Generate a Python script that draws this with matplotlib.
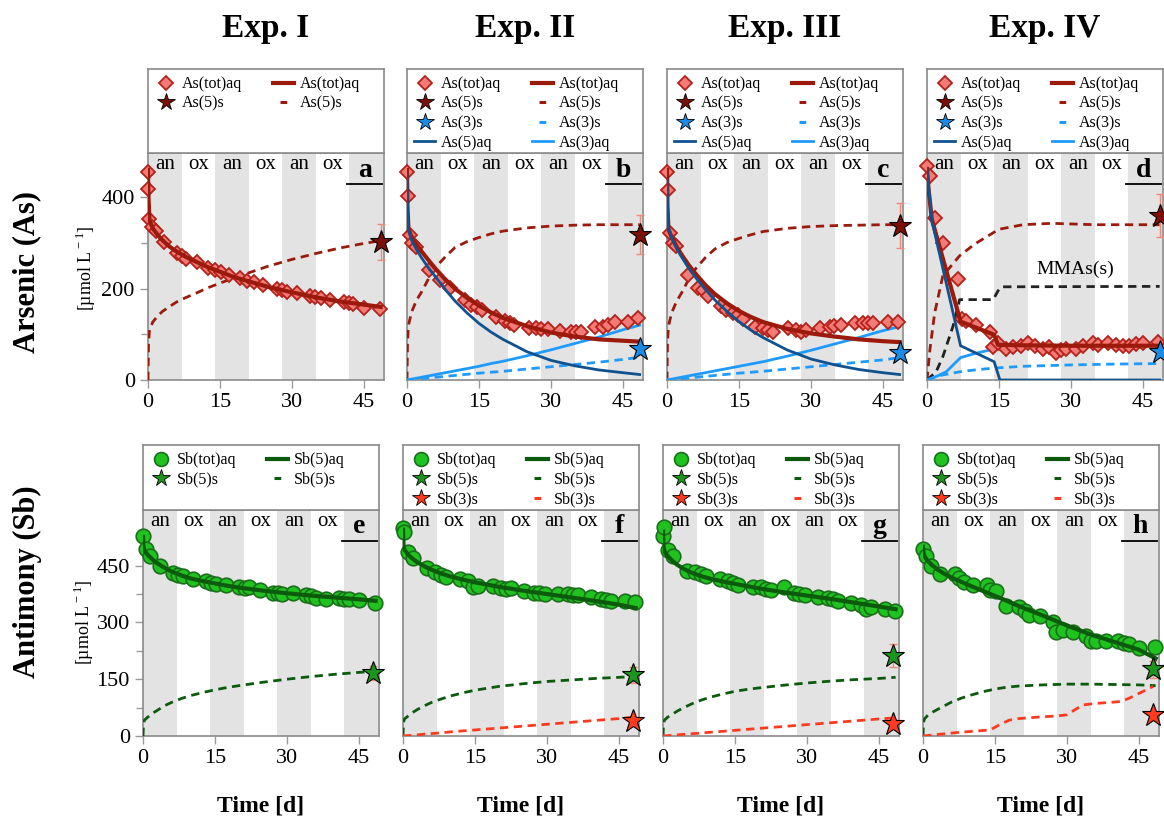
import numpy as np
import matplotlib.pyplot as plt
from matplotlib.lines import Line2D
from matplotlib.ticker import MultipleLocator, FixedLocator

plt.rcParams['font.family'] = ['Liberation Serif', 'DejaVu Serif']
plt.rcParams['mathtext.fontset'] = 'custom'
plt.rcParams['mathtext.rm'] = 'Liberation Serif'

# ---------------- colours ----------------
C_DIA = '#f47a76'
C_DIA_E = '#b3221a'
C_RED = '#9b1a0c'
C_STAR_RED = '#7c0f08'
C_DBLUE = '#0f528f'
C_LBLUE = '#1f9bff'
C_STAR_BLUE = '#1a8ce6'
C_CIRC = '#1fc21f'
C_CIRC_E = '#1b6e1b'
C_GREEN = '#0c5a0c'
C_STAR_GREEN = '#1c951c'
C_ORANGE = '#ff3a1e'
C_ERR = '#f08a78'
C_SHADE = '#e3e3e3'
C_SPINE = '#8a8a8a'

# ---------------- shared model time grid ----------------
t_mod = [0, 0.1, 0.3, 1, 2, 3, 4.5, 6, 8, 10, 12.5, 15, 17.5, 20, 25, 30, 35, 40, 45, 48.5]

# ---------------- Exp. I, arsenic (a) ----------------
a_obs_t = [0, 0, 0.3, 0.8, 1.7, 3.3, 6, 7, 8, 10.2, 12.6, 14, 15.2, 16.8, 19.2, 20.6, 22, 24,
           26.9, 27.9, 29, 31, 33.8, 34.9, 36, 38, 40.8, 41.8, 42.8, 45, 48.3]
a_obs_as = [456, 418, 352, 334, 327, 302, 277, 272, 266, 258, 246, 241, 236, 230, 224, 216, 214, 208,
            200, 196, 193, 191, 185, 182, 180, 176, 171, 169, 167, 158, 156]
a_mod_tot = [460, 400, 350, 332, 318, 306, 292, 281, 269, 259, 247, 237, 227, 219, 204, 192, 181, 172, 165, 160]
a_mod_as5s = [0, 75, 110, 127, 140, 150, 161, 171, 181, 190, 202, 212, 222, 231, 249, 264, 277, 289, 299, 305]
a_star_as5 = (48.5, 302, 40)

# ---------------- Exp. II, arsenic (b) ----------------
b_obs_t = [0, 0.2, 0.6, 1.1, 1.9, 4.6, 6.8, 8.9, 12, 13.4, 14.6, 15.7, 18.6, 20.4, 21.4, 22.4, 25.4,
           26.9, 28, 29.4, 31.8, 34.2, 35.3, 36.3, 39.1, 40.8, 41.9, 43.3, 46, 48.1]
b_obs_as = [456, 402, 317, 301, 292, 241, 220, 202, 176, 165, 160, 154, 137, 130, 125, 121, 114,
            114, 112, 112, 108, 104, 106, 106, 117, 117, 121, 126, 128, 136]
b_mod_tot = [460, 380, 330, 312, 296, 282, 262, 243, 220, 200, 180, 163, 148, 136, 118, 104, 95, 89, 86, 84]
b_mod_as5aq = [450, 380, 330, 305, 285, 268, 245, 225, 198, 173, 147, 124, 105, 89, 62, 43, 31, 22, 16, 12]
b_mod_as3aq = [0, 0.2, 0.6, 2, 4, 6, 9, 12, 16, 20, 25, 30, 36, 41, 53, 66, 80, 94, 110, 120]
b_mod_as3s = [0, 0.1, 0.3, 1, 2, 3, 4.5, 6, 8, 10, 12.5, 15, 17, 19, 24, 29, 34, 39, 45, 50]
b_mod_as5s = [0, 80, 120, 150, 175, 192, 222, 247, 270, 290, 303, 312, 320, 326, 333, 337, 339, 340, 340, 340]
b_star_as5 = (48.5, 318, 43)
b_star_as3 = (48.5, 67)

# ---------------- Exp. III, arsenic (c) ----------------
c_obs_t = [0, 0.2, 0.7, 1.3, 1.9, 4.4, 6.5, 7.5, 8.5, 11.3, 12.4, 13.8, 14.8, 15.8, 18.3, 20, 21,
           22.1, 25.2, 26.9, 28, 29, 31.8, 33.9, 34.9, 36.3, 39.1, 40.8, 41.9, 42.9, 46, 48.1]
c_obs_as = [456, 415, 321, 299, 294, 229, 202, 198, 183, 161, 154, 147, 143, 134, 117, 114, 110,
            106, 114, 110, 106, 109, 114, 117, 119, 121, 125, 125, 125, 125, 126, 128]
c_mod_tot = [460, 380, 330, 312, 292, 275, 252, 232, 208, 188, 168, 151, 138, 127, 112, 102, 95, 89, 85, 83]
c_mod_as5aq = [440, 390, 335, 310, 288, 270, 245, 224, 198, 175, 150, 128, 109, 93, 66, 46, 33, 23, 16, 12]
c_mod_as3aq = [0, 0.2, 0.6, 2, 4, 6, 9, 12, 16, 20, 25, 30, 35, 40, 52, 65, 79, 93, 108, 117]
c_mod_as3s = [0, 0.1, 0.3, 1, 2, 3, 4.5, 6, 8, 10, 12.5, 15, 17, 19, 24, 29, 34, 39, 44, 49]
c_mod_as5s = [0, 80, 118, 148, 172, 190, 220, 244, 268, 287, 301, 310, 318, 325, 332, 336, 338, 339, 340, 340]
c_star_as5 = (48.5, 338, 49)
c_star_as3 = (48.5, 59)

# ---------------- Exp. IV, arsenic (d) ----------------
d_obs_t = [0, 0.6, 1.6, 3.3, 6.5, 7.2, 8.2, 10.3, 13.1, 13.8, 14.8, 16.5, 17.9, 19.5, 21, 22.5, 24.2,
           25.5, 26.9, 28, 29, 31.1, 32.5, 34.6, 35.6, 37.7, 39.5, 40.8, 42.2, 43.5, 45, 48.1]
d_obs_as = [468, 446, 354, 299, 222, 134, 130, 121, 106, 73, 81, 68, 73, 75, 81, 75, 68,
            72, 59, 66, 68, 68, 75, 82, 77, 81, 76, 75, 75, 78, 81, 84]
d_tot_t = [0, 0.3, 1, 7, 14, 14.8, 20, 30, 40, 48.5]
d_mod_tot = [462, 420, 352, 128, 99, 77, 76, 75, 75, 75]
d_as5aq_t = [0, 1, 7, 14, 15.2, 48.5]
d_mod_as5aq = [462, 350, 75, 40, 0, 0]
d_as3aq_t = [0, 2, 4, 7, 10, 14.8]
d_mod_as3aq = [0, 8, 18, 49, 58, 70]
d_as3s_t = [0, 2, 3.3, 6.8, 10, 13.8, 20, 30, 40, 48.5]
d_mod_as3s = [0, 8, 11, 18, 22, 26, 30, 33, 35, 36]
d_as5s_t = [0, 0.6, 1.6, 3.3, 6.8, 10, 15, 20, 26, 35, 48.5]
d_mod_as5s = [0, 66, 147, 228, 272, 298, 330, 340, 343, 340, 340]
d_mmas_t = [0, 1.9, 3.3, 5.4, 6.8, 13.8, 14.8, 15.5, 48.5]
d_mod_mmas = [0, 18, 51, 117, 176, 176, 195, 204, 205]
d_star_as5 = (48.5, 360, 48)
d_star_as3 = (48.5, 62)

# ---------------- Exp. I, antimony (e) ----------------
e_obs_t = [0, 0.7, 1.4, 3.5, 6.2, 7.3, 8.3, 10.4, 13.2, 14.2, 15.3, 17.2, 20.1, 21.2, 22.2, 24.3,
           27.1, 28.1, 29, 31.3, 34, 35, 36, 38.2, 40.8, 42, 43, 45, 48.3]
e_obs_sb = [528, 494, 475, 450, 431, 426, 422, 415, 409, 404, 402, 400, 393, 391, 394, 385,
            379, 378, 375, 378, 373, 369, 364, 362, 364, 362, 362, 358, 351]
e_mod_sb5aq = [525, 500, 490, 478, 466, 456, 444, 434, 424, 416, 409, 403, 397, 392, 384, 377, 371, 366, 361, 357]
e_mod_sb5s = [0, 30, 42, 50, 60, 68, 80, 89, 99, 107, 115, 122, 128, 133, 142, 150, 157, 163, 168, 171]
e_star_sb5 = (48, 167, 18)

# ---------------- Exp. II, antimony (f) ----------------
f_obs_t = [0, 0.3, 1, 2.1, 4.9, 6.6, 8, 9, 11.8, 13.5, 14.6, 15.6, 18.8, 20.5, 21.5, 22.6, 25.3,
           27.4, 28.3, 29.5, 32.3, 34.4, 35.4, 36.5, 39.2, 41.3, 42.4, 43.4, 46.2, 48.3]
f_obs_sb = [550, 538, 485, 470, 444, 432, 426, 420, 415, 409, 394, 395, 395, 391, 389, 391, 382,
            379, 379, 376, 376, 376, 373, 373, 367, 362, 358, 356, 356, 353]
f_mod_sb5aq = [545, 505, 492, 480, 468, 459, 448, 439, 429, 421, 413, 406, 400, 394, 384, 375, 366, 357, 347, 338]
f_mod_sb5s = [0, 35, 45, 52, 62, 70, 80, 89, 98, 106, 114, 121, 126, 131, 138, 144, 148, 152, 155, 157]
f_mod_sb3s = [0, 0.1, 0.3, 1, 2, 3, 5, 6.5, 8.5, 11, 13.5, 16, 18.5, 21, 26, 31, 36, 41, 46, 50]
f_star_sb5 = (48, 161, 21)
f_star_sb3 = (48, 40)

# ---------------- Exp. III, antimony (g) ----------------
g_obs_t = [0, 0.3, 1, 2.1, 4.9, 6.6, 8, 9, 11.8, 13.5, 14.6, 15.6, 18.8, 20.5, 21.5, 22.6, 25.3,
           27.4, 28.3, 29.5, 32.3, 34.4, 35.4, 36.5, 39.2, 41.3, 42.4, 43.4, 46.2, 48.3]
g_obs_sb = [528, 552, 492, 475, 437, 432, 429, 422, 415, 409, 404, 400, 394, 393, 388, 386, 393,
            378, 376, 373, 367, 364, 362, 357, 351, 345, 336, 341, 335, 329]
g_mod_sb5aq = [540, 500, 488, 475, 462, 452, 440, 431, 422, 415, 408, 402, 396, 390, 380, 371, 362, 352, 342, 335]
g_mod_sb5s = [0, 30, 42, 50, 58, 66, 76, 85, 95, 103, 111, 118, 123, 127, 134, 140, 145, 149, 152, 155]
g_mod_sb3s = [0, 0.1, 0.3, 1, 2, 3, 4.5, 6, 8, 10, 12.5, 15, 17.5, 20, 25, 30, 35, 40, 45, 48]
g_star_sb5 = (48, 212, 30)
g_star_sb3 = (48, 32)

# ---------------- Exp. IV, antimony (h) ----------------
h_obs_t = [0, 0.6, 1.7, 3.5, 6.6, 7.5, 8.5, 10.4, 13.3, 13.9, 15.3, 17.2, 20.1, 21.2, 22.2, 24.3,
           27.1, 27.8, 29.2, 31.3, 34, 35.1, 36.1, 38.2, 40.6, 42, 43, 45, 48.3]
h_obs_sb = [494, 475, 450, 428, 428, 417, 406, 400, 400, 386, 382, 344, 340, 329, 320, 316,
            300, 276, 279, 274, 265, 250, 250, 250, 250, 245, 244, 232, 235]
h_mod_sb5aq = [500, 485, 475, 462, 450, 440, 428, 418, 407, 396, 383, 370, 357, 343, 318, 292, 268, 248, 228, 205]
h_mod_sb5s = [0, 35, 45, 55, 63, 70, 80, 90, 100, 108, 117, 124, 129, 132, 135, 137, 137, 136, 135, 133]
h_sb3s_t = [0, 7, 14, 16, 18, 20, 24, 28, 30, 31.5, 33.3, 36, 41.3, 43, 45.1, 48]
h_mod_sb3s = [0, 9, 16, 30, 42, 46, 50, 53, 56, 68, 82, 86, 91, 100, 113, 131]
h_star_sb5 = (48, 176, 22)
h_star_sb3 = (48, 56)

exp_titles = ['Exp. I', 'Exp. II', 'Exp. III', 'Exp. IV']
phase_labels = ['an', 'ox', 'an', 'ox', 'an', 'ox']
XMAX = 49.2
DASH = (3, 2)
LEG_DASH = (19.9, (2.2, 20))

W, H = 1164, 821
fig = plt.figure(figsize=(W / 100, H / 100), dpi=100)


def style_box(ax):
    for s in ax.spines.values():
        s.set_color(C_SPINE)
        s.set_linewidth(1.2)


def make_panel(x0, top, bottom, leg_top, letter, ymax, major, minor, first):
    ax = fig.add_axes([x0 / W, 1 - bottom / H, 236 / W, (bottom - top) / H])
    axl = fig.add_axes([x0 / W, 1 - top / H, 236 / W, (top - leg_top) / H])
    axl.set_xticks([])
    axl.set_yticks([])
    style_box(axl)
    style_box(ax)
    ax.set_xlim(0, XMAX)
    ax.set_ylim(0, ymax)
    for k in range(4):
        ax.axvspan(14 * k, min(14 * k + 7, XMAX), color=C_SHADE, lw=0, zorder=0)
    for k, lab in enumerate(phase_labels):
        ax.text(7 * k + 3.5, ymax * 0.95, lab, ha='center', va='center', fontsize=15)
    ax.text(0.918, 0.925, letter, transform=ax.transAxes, ha='center', va='center',
            fontsize=20, fontweight='bold')
    ax.plot([0.845, 0.99], [0.865] * 2, transform=ax.transAxes, color='black', lw=1.3)
    ax.set_xticks([0, 15, 30, 45])
    ax.yaxis.set_major_locator(MultipleLocator(major))
    ax.yaxis.set_minor_locator(FixedLocator(minor))
    ax.tick_params(which='both', direction='out', color='#999999', width=1, labelsize=16)
    ax.tick_params(which='major', length=6)
    ax.tick_params(which='minor', length=5)
    if not first:
        ax.tick_params(axis='y', which='both', left=False, labelleft=False)
    return ax, axl


def star(ax, pt, face, err=None):
    if err is not None:
        ax.errorbar(pt[0], pt[1], yerr=err, color=C_ERR, lw=1, capsize=3, zorder=4, clip_on=False)
    ax.plot(pt[0], pt[1], marker='*', ms=17, mfc=face, mec='black', mew=0.8, zorder=6, clip_on=False)


def add_legend(axl, h, lab):
    axl.legend(h, lab, ncol=2, loc='upper left', frameon=False, fontsize=11.5,
               handlelength=1.3, handletextpad=0.4, columnspacing=1.9, labelspacing=0.22,
               borderaxespad=0.15, borderpad=0.3)


def as_legend(axl, full):
    dia = Line2D([], [], ls='none', marker='D', ms=7, mfc=C_DIA, mec=C_DIA_E, mew=1.3)
    st5 = Line2D([], [], ls='none', marker='*', ms=13, mfc=C_STAR_RED, mec='black', mew=0.6)
    st3 = Line2D([], [], ls='none', marker='*', ms=13, mfc=C_STAR_BLUE, mec='black', mew=0.6)
    l_tot = Line2D([], [], color=C_RED, lw=3)
    l_5s = Line2D([], [], color=C_RED, lw=2.2, ls=LEG_DASH)
    l_3s = Line2D([], [], color=C_LBLUE, lw=2.2, ls=LEG_DASH)
    l_5aq = Line2D([], [], color=C_DBLUE, lw=2)
    l_3aq = Line2D([], [], color=C_LBLUE, lw=2)
    if full:
        h = [dia, st5, st3, l_5aq, l_tot, l_5s, l_3s, l_3aq]
        lab = ['As(tot)aq', 'As(5)s', 'As(3)s', 'As(5)aq', 'As(tot)aq', 'As(5)s', 'As(3)s', 'As(3)aq']
    else:
        h = [dia, st5, l_tot, l_5s]
        lab = ['As(tot)aq', 'As(5)s', 'As(tot)aq', 'As(5)s']
    add_legend(axl, h, lab)


def sb_legend(axl, full):
    cir = Line2D([], [], ls='none', marker='o', ms=10, mfc=C_CIRC, mec=C_CIRC_E, mew=1.2)
    st5 = Line2D([], [], ls='none', marker='*', ms=13, mfc=C_STAR_GREEN, mec='black', mew=0.6)
    st3 = Line2D([], [], ls='none', marker='*', ms=13, mfc=C_ORANGE, mec='black', mew=0.6)
    l_aq = Line2D([], [], color=C_GREEN, lw=3)
    l_5s = Line2D([], [], color=C_GREEN, lw=2.2, ls=LEG_DASH)
    l_3s = Line2D([], [], color=C_ORANGE, lw=2.2, ls=LEG_DASH)
    if full:
        h = [cir, st5, st3, l_aq, l_5s, l_3s]
        lab = ['Sb(tot)aq', 'Sb(5)s', 'Sb(3)s', 'Sb(5)aq', 'Sb(5)s', 'Sb(3)s']
    else:
        h = [cir, st5, l_aq, l_5s]
        lab = ['Sb(tot)aq', 'Sb(5)s', 'Sb(5)aq', 'Sb(5)s']
    add_legend(axl, h, lab)


def diamonds(ax, t, y):
    ax.plot(t, y, ls='none', marker='D', ms=7.5, mfc=C_DIA, mec=C_DIA_E, mew=1.3, zorder=5, clip_on=False)


def circles(ax, t, y):
    ax.plot(t, y, ls='none', marker='o', ms=10.5, mfc=C_CIRC, mec=C_CIRC_E, mew=1.2, zorder=5, clip_on=False)


top_x = [148, 407, 667, 927]
bot_x = [143, 403, 663, 923]

# ---------- arsenic row ----------
as_axes = []
for i, letter in enumerate('abcd'):
    ax, axl = make_panel(top_x[i], 153, 380, 69, letter, 497, 200, [100, 300, 500], i == 0)
    as_axes.append(ax)
    as_legend(axl, i > 0)

ax = as_axes[0]
ax.plot(t_mod, a_mod_as5s, color=C_RED, lw=2, dashes=DASH, zorder=3)
diamonds(ax, a_obs_t, a_obs_as)
ax.plot(t_mod, a_mod_tot, color=C_RED, lw=3, zorder=5.5)
star(ax, a_star_as5[:2], C_STAR_RED, a_star_as5[2])

for ax, obs_t, obs, tot, a5aq, a3aq, a3s, a5s, s5, s3 in [
        (as_axes[1], b_obs_t, b_obs_as, b_mod_tot, b_mod_as5aq, b_mod_as3aq, b_mod_as3s, b_mod_as5s, b_star_as5, b_star_as3),
        (as_axes[2], c_obs_t, c_obs_as, c_mod_tot, c_mod_as5aq, c_mod_as3aq, c_mod_as3s, c_mod_as5s, c_star_as5, c_star_as3)]:
    ax.plot(t_mod, a5s, color=C_RED, lw=2, dashes=DASH, zorder=3)
    ax.plot(t_mod, a3s, color=C_LBLUE, lw=2, dashes=DASH, zorder=3)
    ax.plot(t_mod, a3aq, color=C_LBLUE, lw=2, zorder=3)
    diamonds(ax, obs_t, obs)
    ax.plot(t_mod, tot, color=C_RED, lw=3, zorder=5.5)
    ax.plot(t_mod, a5aq, color=C_DBLUE, lw=2, zorder=5.6)
    star(ax, s5[:2], C_STAR_RED, s5[2])
    star(ax, s3, C_STAR_BLUE)

ax = as_axes[3]
ax.plot(d_as5s_t, d_mod_as5s, color=C_RED, lw=2, dashes=DASH, zorder=3)
ax.plot(d_mmas_t, d_mod_mmas, color='#222222', lw=2, dashes=DASH, zorder=3)
ax.plot(d_as3s_t, d_mod_as3s, color=C_LBLUE, lw=2, dashes=DASH, zorder=3)
ax.plot(d_as3aq_t, d_mod_as3aq, color=C_LBLUE, lw=2, zorder=3)
diamonds(ax, d_obs_t, d_obs_as)
ax.plot(d_tot_t, d_mod_tot, color=C_RED, lw=3, zorder=5.5)
ax.plot(d_as5aq_t, d_mod_as5aq, color=C_DBLUE, lw=2, zorder=5.6)
ax.text(31, 242, 'MMAs(s)', ha='center', va='center', fontsize=14)
star(ax, d_star_as5[:2], C_STAR_RED, d_star_as5[2])
star(ax, d_star_as3, C_STAR_BLUE)

# ---------- antimony row ----------
sb_axes = []
for i, letter in enumerate('efgh'):
    ax, axl = make_panel(bot_x[i], 510, 736, 445, letter, 597, 150, [75, 225, 375], i == 0)
    sb_axes.append(ax)
    sb_legend(axl, i > 0)

ax = sb_axes[0]
ax.plot(t_mod, e_mod_sb5s, color=C_GREEN, lw=2, dashes=DASH, zorder=3)
circles(ax, e_obs_t, e_obs_sb)
ax.plot(t_mod, e_mod_sb5aq, color=C_GREEN, lw=3, zorder=5.5)
star(ax, e_star_sb5[:2], C_STAR_GREEN, e_star_sb5[2])

for ax, obs_t, obs, aq, s5s, s3s, st5, st3 in [
        (sb_axes[1], f_obs_t, f_obs_sb, f_mod_sb5aq, f_mod_sb5s, f_mod_sb3s, f_star_sb5, f_star_sb3),
        (sb_axes[2], g_obs_t, g_obs_sb, g_mod_sb5aq, g_mod_sb5s, g_mod_sb3s, g_star_sb5, g_star_sb3)]:
    ax.plot(t_mod, s5s, color=C_GREEN, lw=2, dashes=DASH, zorder=3)
    ax.plot(t_mod, s3s, color=C_ORANGE, lw=2, dashes=DASH, zorder=3)
    circles(ax, obs_t, obs)
    ax.plot(t_mod, aq, color=C_GREEN, lw=3, zorder=5.5)
    star(ax, st5[:2], C_STAR_GREEN, st5[2])
    star(ax, st3, C_ORANGE)

ax = sb_axes[3]
ax.plot(t_mod, h_mod_sb5s, color=C_GREEN, lw=2, dashes=DASH, zorder=3)
ax.plot(h_sb3s_t, h_mod_sb3s, color=C_ORANGE, lw=2, dashes=DASH, zorder=3)
circles(ax, h_obs_t, h_obs_sb)
ax.plot(t_mod, h_mod_sb5aq, color=C_GREEN, lw=3, zorder=5.5)
star(ax, h_star_sb5[:2], C_STAR_GREEN, h_star_sb5[2])
star(ax, h_star_sb3, C_ORANGE)

# ---------- titles & labels ----------
for i, title in enumerate(exp_titles):
    fig.text((top_x[i] + 118) / W, 1 - 28 / H, title, ha='center', va='center',
             fontsize=24, fontweight='bold')
    fig.text((bot_x[i] + 118) / W, 1 - 806 / H, 'Time [d]', ha='center', va='center',
             fontsize=17, fontweight='bold')

fig.text(27 / W, 1 - 272 / H, 'Arsenic (As)', rotation=90, ha='center', va='center',
         fontsize=22, fontweight='bold')
fig.text(27 / W, 1 - 582 / H, 'Antimony (Sb)', rotation=90, ha='center', va='center',
         fontsize=22, fontweight='bold')
fig.text(86 / W, 1 - 268 / H, r'[µmol L$^{\rm -1}$]', rotation=90, ha='center', va='center', fontsize=13)
fig.text(84 / W, 1 - 622 / H, r'[µmol L$^{\rm -1}$]', rotation=90, ha='center', va='center', fontsize=13)

fig.savefig('out.png', dpi=100)
